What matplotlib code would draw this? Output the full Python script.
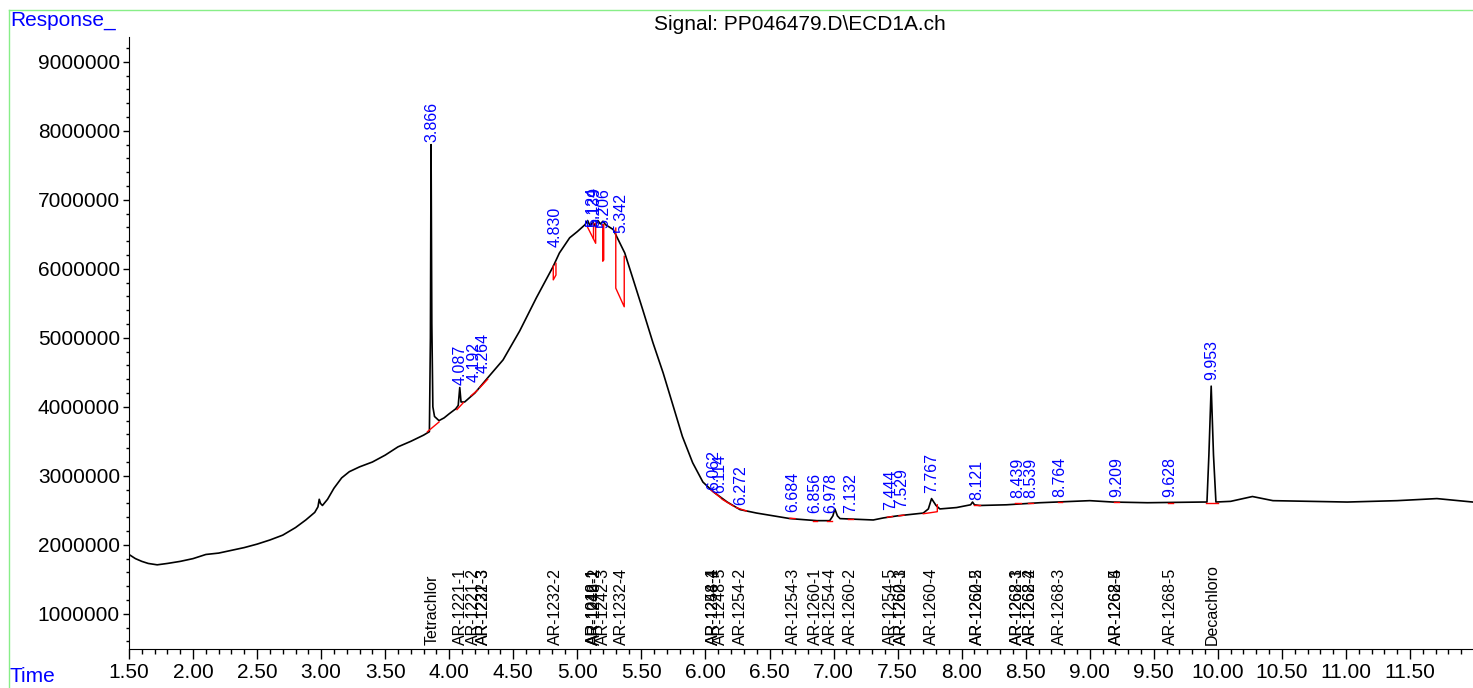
import matplotlib
matplotlib.use("Agg")
import matplotlib.pyplot as plt
from matplotlib.lines import Line2D
from matplotlib.ticker import MultipleLocator, FuncFormatter

plt.rcParams['font.family'] = ['Liberation Sans', 'DejaVu Sans']

# --- trace (time in min, response) ---
trace_t = [1.50, 1.55, 1.60, 1.65, 1.72, 1.80, 1.90, 2.00, 2.10, 2.20, 2.30, 2.40,
           2.50, 2.60, 2.70, 2.80, 2.88, 2.95, 2.975, 2.985, 2.995, 3.010, 3.05,
           3.10, 3.16, 3.22, 3.30, 3.40, 3.50, 3.60, 3.70, 3.80, 3.845, 3.853,
           3.858, 3.864, 3.872, 3.885, 3.92, 3.96, 4.00, 4.05, 4.070, 4.082,
           4.092, 4.12, 4.20, 4.30, 4.42, 4.55, 4.68, 4.81, 4.86, 4.94, 5.00,
           5.06, 5.08, 5.10, 5.12, 5.14, 5.16, 5.18, 5.20, 5.22, 5.28, 5.37,
           5.43, 5.51, 5.59, 5.67, 5.75, 5.82, 5.90, 5.98, 6.06, 6.17, 6.27,
           6.40, 6.66, 6.87, 6.97, 6.995, 7.01, 7.03, 7.05, 7.31, 7.39, 7.50,
           7.70, 7.74, 7.765, 7.80, 7.83, 7.96, 8.07, 8.085, 8.10, 8.14, 8.35,
           8.61, 8.74, 9.00, 9.18, 9.45, 9.88, 9.915, 9.930, 9.948, 9.966,
           9.985, 10.10, 10.27, 10.43, 11.01, 11.40, 11.71, 11.99]
trace_v = [1.86, 1.80, 1.76, 1.73, 1.71, 1.73, 1.76, 1.80, 1.86, 1.88, 1.92, 1.96,
           2.01, 2.07, 2.14, 2.25, 2.36, 2.47, 2.55, 2.66, 2.60, 2.57, 2.66,
           2.82, 2.97, 3.06, 3.13, 3.20, 3.30, 3.42, 3.50, 3.59, 3.64, 5.00,
           7.80, 5.20, 4.00, 3.86, 3.80, 3.84, 3.90, 3.97, 4.02, 4.28,
           4.07, 4.07, 4.20, 4.42, 4.68, 5.10, 5.58, 6.03, 6.23, 6.45, 6.54,
           6.64, 6.70, 6.62, 6.68, 6.62, 6.70, 6.65, 6.69, 6.64, 6.57, 6.23,
           5.88, 5.41, 4.93, 4.49, 4.00, 3.57, 3.19, 2.91, 2.77, 2.62, 2.51,
           2.46, 2.38, 2.35, 2.35, 2.42, 2.52, 2.42, 2.38, 2.36, 2.39, 2.42,
           2.46, 2.52, 2.67, 2.57, 2.52, 2.54, 2.58, 2.62, 2.58, 2.57, 2.58,
           2.61, 2.62, 2.64, 2.62, 2.61, 2.62, 2.62, 3.30, 4.30, 3.30,
           2.62, 2.63, 2.70, 2.64, 2.62, 2.64, 2.67, 2.62]
trace_v = [v * 1e6 for v in trace_v]

# --- integration baselines (red) ---
base_t = [[3.83, 3.92], [4.06, 4.11], [4.17, 4.22], [4.24, 4.30],
          [4.812, 4.812, 4.833, 4.833],
          [5.078, 5.143, 5.143], [5.125, 5.125],
          [5.198, 5.198, 5.206, 5.206],
          [5.300, 5.300, 5.366, 5.366],
          [6.04, 6.12], [6.13, 6.22], [6.24, 6.32],
          [6.66, 6.70], [6.84, 6.87], [6.95, 6.99], [7.11, 7.15],
          [7.42, 7.46], [7.51, 7.55], [7.70, 7.81, 7.81],
          [8.10, 8.14], [8.42, 8.46], [8.52, 8.56], [8.75, 8.78],
          [9.19, 9.23], [9.61, 9.65], [9.91, 10.00]]
base_v = [[3.64, 3.78], [3.96, 4.06], [4.16, 4.24], [4.28, 4.40],
          [6.04, 5.84, 5.91, 6.08],
          [6.61, 6.37, 6.66], [6.66, 6.44],
          [6.64, 6.11, 6.13, 6.64],
          [6.59, 5.72, 5.45, 6.18],
          [2.80, 2.68], [2.66, 2.56], [2.54, 2.49],
          [2.385, 2.38], [2.35, 2.35], [2.35, 2.35], [2.37, 2.37],
          [2.40, 2.41], [2.42, 2.43], [2.45, 2.48, 2.58],
          [2.58, 2.58], [2.60, 2.60], [2.61, 2.61], [2.62, 2.62],
          [2.62, 2.62], [2.61, 2.61], [2.61, 2.61]]

# --- retention time labels (blue) ---
peak_t = [3.866, 4.087, 4.192, 4.264, 4.830, 5.124, 5.139, 5.206, 5.342,
          6.062, 6.114, 6.272, 6.684, 6.856, 6.978, 7.132, 7.444, 7.529,
          7.767, 8.121, 8.439, 8.539, 8.764, 9.209, 9.628, 9.953]
peak_lbl = ["3.866", "4.087", "4.192", "4.264", "4.830", "5.124", "5.139",
            "5.206", "5.342", "6.062", "6.114", "6.272", "6.684", "6.856",
            "6.978", "7.132", "7.444", "7.529", "7.767", "8.121", "8.439",
            "8.539", "8.764", "9.209", "9.628", "9.953"]
peak_lbl_v = [7.84, 4.32, 4.36, 4.49, 6.32, 6.61, 6.61, 6.59, 6.52,
              2.80, 2.75, 2.58, 2.48, 2.46, 2.46, 2.46, 2.50, 2.54,
              2.75, 2.65, 2.68, 2.68, 2.70, 2.70, 2.70, 4.39]

# --- compound names (black) ---
cmpd_t = [3.866, 4.087, 4.192, 4.264, 4.264, 4.830, 5.124, 5.124, 5.139,
          5.206, 5.342, 6.062, 6.062, 6.114, 6.272, 6.684, 6.856, 6.978,
          7.132, 7.444, 7.529, 7.529, 7.767, 8.121, 8.121, 8.439, 8.439,
          8.539, 8.539, 8.764, 9.209, 9.209, 9.628, 9.953]
cmpd_lbl = ["Tetrachlor", "AR-1221-1", "AR-1221-2", "AR-1221-3", "AR-1232-3",
            "AR-1232-2", "AR-1016-1", "AR-1242-1", "AR-1248-2", "AR-1242-3",
            "AR-1232-4", "AR-1248-4", "AR-1254-1", "AR-1248-5", "AR-1254-2",
            "AR-1254-3", "AR-1260-1", "AR-1254-4", "AR-1260-2", "AR-1254-5",
            "AR-1260-3", "AR-1262-1", "AR-1260-4", "AR-1260-5", "AR-1262-2",
            "AR-1262-3", "AR-1268-1", "AR-1262-4", "AR-1268-2", "AR-1268-3",
            "AR-1262-5", "AR-1268-4", "AR-1268-5", "Decachloro"]

fig = plt.figure(figsize=(14.73, 6.88), dpi=100)
W, H = 1473.0, 688.0
ax = fig.add_axes([129 / W, (H - 649) / H, (W - 129) / W, (649 - 37) / H])

ax.plot(trace_t, trace_v, color='black', lw=1.2, zorder=3)
for bt, bv in zip(base_t, base_v):
    ax.plot(bt, [v * 1e6 for v in bv], color='red', lw=1.0, zorder=4)

for t, lbl, v in zip(peak_t, peak_lbl, peak_lbl_v):
    ax.text(t, v * 1e6, lbl, rotation=90, ha='center', va='bottom',
            color='blue', fontsize=11.5, zorder=5)

xtr = ax.get_xaxis_transform()
for t, lbl in zip(cmpd_t, cmpd_lbl):
    ax.text(t, 0.006, lbl, rotation=90, ha='center', va='bottom',
            color='black', fontsize=11.5, transform=xtr)

ax.set_xlim(1.5, 1.5 + 1344 / 128.1)
ax.set_ylim(0.49e6, 9.36e6)
ax.spines['top'].set_visible(False)
ax.spines['right'].set_visible(False)
ax.xaxis.set_major_locator(MultipleLocator(0.5))
ax.xaxis.set_minor_locator(MultipleLocator(0.1))
ax.yaxis.set_major_locator(MultipleLocator(1e6))
ax.yaxis.set_minor_locator(MultipleLocator(2e5))
ax.xaxis.set_major_formatter(FuncFormatter(lambda x, p: f"{x:.2f}"))
ax.yaxis.set_major_formatter(FuncFormatter(lambda y, p: f"{int(round(y))}"))
ax.tick_params(axis='x', which='major', length=7, width=1, labelsize=15, pad=3)
ax.tick_params(axis='x', which='minor', length=3.6, width=1)
ax.tick_params(axis='y', which='major', length=4.5, width=1, labelsize=15, pad=2)
ax.tick_params(axis='y', which='minor', length=2.5, width=1)

fig.text(10 / W, 1 - 20 / H, "Response_", color='blue', fontsize=15,
         ha='left', va='center')
fig.text(10 / W, 1 - 677 / H, "Time", color='blue', fontsize=15,
         ha='left', va='center')
fig.text(800 / W, 1 - 25 / H, "Signal: PP046479.D\\ECD1A.ch", fontsize=15,
         ha='center', va='center')

green = '#88ee88'
fig.add_artist(Line2D([9 / W, 9 / W], [0, 1 - 10 / H], color=green, lw=1))
fig.add_artist(Line2D([9 / W, 1], [1 - 10 / H, 1 - 10 / H], color=green, lw=1))

fig.savefig("out.png", dpi=100)
